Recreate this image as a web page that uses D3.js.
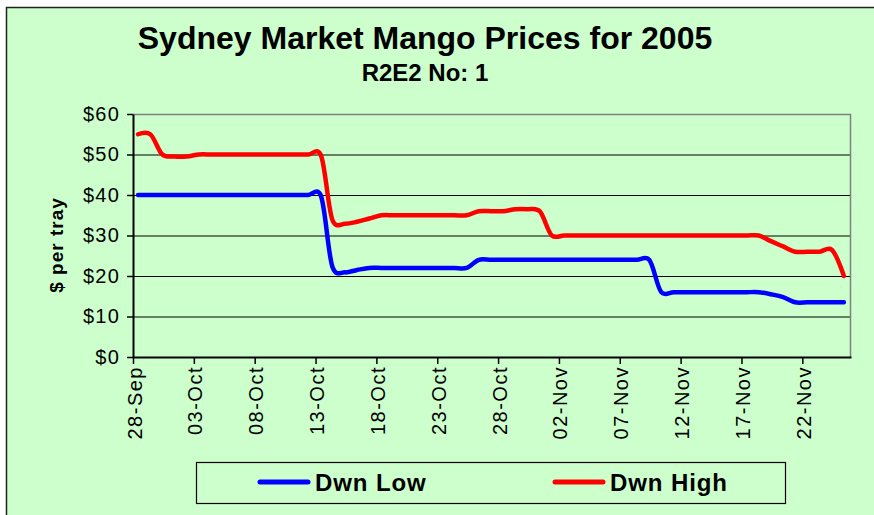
<!DOCTYPE html>
<html>
<head>
<meta charset="utf-8">
<script src="https://cdn.jsdelivr.net/npm/d3@7"></script>
<style>
body { margin: 0; background: #fff; }
text { font-family: "Liberation Sans", Arial, sans-serif; }
</style>
</head>
<body>
<svg width="874" height="515"></svg>
<script>
// daily prices, 28-Sep-2005 .. 25-Nov-2005
const firstDay = "28-Sep-2005";
const lastDay = "26-Nov-2005";
const dwnLow = [
    40, 40, 40, 40, 40, 40, 40, 40, 40, 40, 40, 40, 40, 40, 40, 40,
    22, 20.9, 21.5, 22,
    22, 22, 22, 22, 22, 22, 22, 22,
    24, 24, 24, 24, 24, 24, 24, 24, 24, 24, 24, 24, 24, 24, 24,
    16, 16, 16, 16, 16, 16, 16, 16, 16,
    15.5, 14.8,
    13.5, 13.5, 13.5, 13.5, 13.5
];
const dwnHigh = [
    55, 55, 50, 49.5, 49.5,
    50, 50, 50, 50, 50, 50, 50, 50, 50, 50, 50,
    33.6, 32.9, 33.4, 34.2,
    35, 35, 35, 35, 35, 35, 35, 35,
    36, 36, 36,
    36.5, 36.5, 36,
    30, 30, 30, 30, 30, 30, 30, 30, 30, 30, 30, 30, 30, 30, 30, 30, 30, 30,
    28.6, 27.3,
    26, 26, 26,
    26.5, 20
];
const seriesNames = ["Dwn Low", "Dwn High"];
const seriesColors = ["#0000ff", "#ff0000"];
const tickLabels = ["28-Sep", "03-Oct", "08-Oct", "13-Oct", "18-Oct", "23-Oct",
    "28-Oct", "02-Nov", "07-Nov", "12-Nov", "17-Nov", "22-Nov"];
const yTicks = [0, 10, 20, 30, 40, 50, 60];

const parseDay = d3.timeParse("%d-%b-%Y");
const start = parseDay(firstDay);
const days = d3.timeDay.range(start, d3.timeDay.offset(start, dwnLow.length));
const tickDates = tickLabels.map(t => parseDay(t + "-2005"));

const svg = d3.select("svg");
const pLeft = 133, pRight = 851, pTop = 114, pBottom = 357;

const x = d3.scaleTime().domain([start, parseDay(lastDay)]).range([pLeft, pRight]);
const y = d3.scaleLinear().domain([0, 60]).range([pBottom, pTop]);
// excel puts the points a bit into the day
const px = d => x(d3.timeHour.offset(d, 10));

svg.append("rect")
    .attr("width", 874).attr("height", 515).attr("fill", "#fff");
svg.append("rect")
    .attr("x", 6.5).attr("y", 7.5)
    .attr("width", 900).attr("height", 540)
    .attr("fill", "#ccffcc")
    .attr("stroke", "#222")
    .attr("stroke-width", 1.5);

svg.append("text")
    .attr("x", 425).attr("y", 49)
    .attr("text-anchor", "middle")
    .attr("font-size", 32).attr("font-weight", "bold")
    .text("Sydney Market Mango Prices for 2005");
svg.append("text")
    .attr("x", 425).attr("y", 81)
    .attr("text-anchor", "middle")
    .attr("font-size", 24).attr("font-weight", "bold")
    .text("R2E2 No: 1");

// grid
svg.append("g").selectAll("line")
    .data(yTicks.filter(v => v > 0 && v < 60))
    .join("line")
    .attr("x1", pLeft).attr("x2", pRight)
    .attr("y1", d => y(d) + 0.5).attr("y2", d => y(d) + 0.5)
    .attr("stroke", "#000").attr("stroke-width", 1);
svg.append("path")
    .attr("d", `M${pLeft},${pTop + 0.5}H${pRight - 0.5}V${pBottom}`)
    .attr("fill", "none")
    .attr("stroke", "#808080")
    .attr("stroke-width", 1.5);

const yAxis = svg.append("g")
    .attr("transform", `translate(${pLeft},0)`)
    .call(d3.axisLeft(y).tickValues(yTicks).tickFormat(d => "$" + d).tickSize(6).tickSizeOuter(0));
yAxis.select(".domain").attr("stroke", "#000").attr("stroke-width", 2);
yAxis.selectAll(".tick line").attr("stroke", "#000").attr("stroke-width", 1.5);
yAxis.selectAll(".tick text")
    .attr("x", -13)
    .attr("font-size", 20)
    .attr("letter-spacing", 1.2)
    .attr("fill", "#000");

const xAxis = svg.append("g")
    .attr("transform", `translate(0,${pBottom})`)
    .call(d3.axisBottom(x).tickValues(tickDates).tickFormat((d, i) => tickLabels[i]).tickSize(7).tickSizeOuter(0));
xAxis.select(".domain").attr("stroke", "#000").attr("stroke-width", 2);
xAxis.selectAll(".tick line").attr("stroke", "#000").attr("stroke-width", 1.5);
xAxis.selectAll(".tick text")
    .attr("transform", "rotate(-90)")
    .attr("text-anchor", "end")
    .attr("x", -9).attr("y", 0)
    .attr("dy", "0.4em")
    .attr("font-size", 20)
    .attr("letter-spacing", 1.5)
    .attr("fill", "#000");

svg.append("text")
    .attr("transform", "translate(63,245) rotate(-90)")
    .attr("text-anchor", "middle")
    .attr("font-size", 19).attr("font-weight", "bold")
    .attr("letter-spacing", 1)
    .text("$ per tray");

// the two smoothed lines
const line = d3.line()
    .x((d, i) => px(days[i]))
    .y(d => y(d))
    .curve(d3.curveCatmullRom.alpha(0.15));

[dwnLow, dwnHigh].forEach((vals, k) => {
    svg.append("path")
        .datum(vals)
        .attr("d", line)
        .attr("fill", "none")
        .attr("stroke", seriesColors[k])
        .attr("stroke-width", 4.5)
        .attr("stroke-linejoin", "round")
        .attr("stroke-linecap", "round");
});

// legend
svg.append("rect")
    .attr("x", 196.5).attr("y", 462.5)
    .attr("width", 589).attr("height", 41)
    .attr("fill", "none")
    .attr("stroke", "#000")
    .attr("stroke-width", 1.2);
const lg = svg.append("g").selectAll("g")
    .data(seriesNames)
    .join("g")
    .attr("transform", (d, i) => `translate(${260 + i * 295},482)`);
lg.append("line")
    .attr("x1", 0).attr("x2", 48)
    .attr("stroke", (d, i) => seriesColors[i])
    .attr("stroke-width", 5)
    .attr("stroke-linecap", "round");
lg.append("text")
    .attr("x", 55).attr("y", 9)
    .attr("font-size", 24).attr("font-weight", "bold")
    .attr("letter-spacing", 0.9)
    .text(d => d);
</script>
</body>
</html>
